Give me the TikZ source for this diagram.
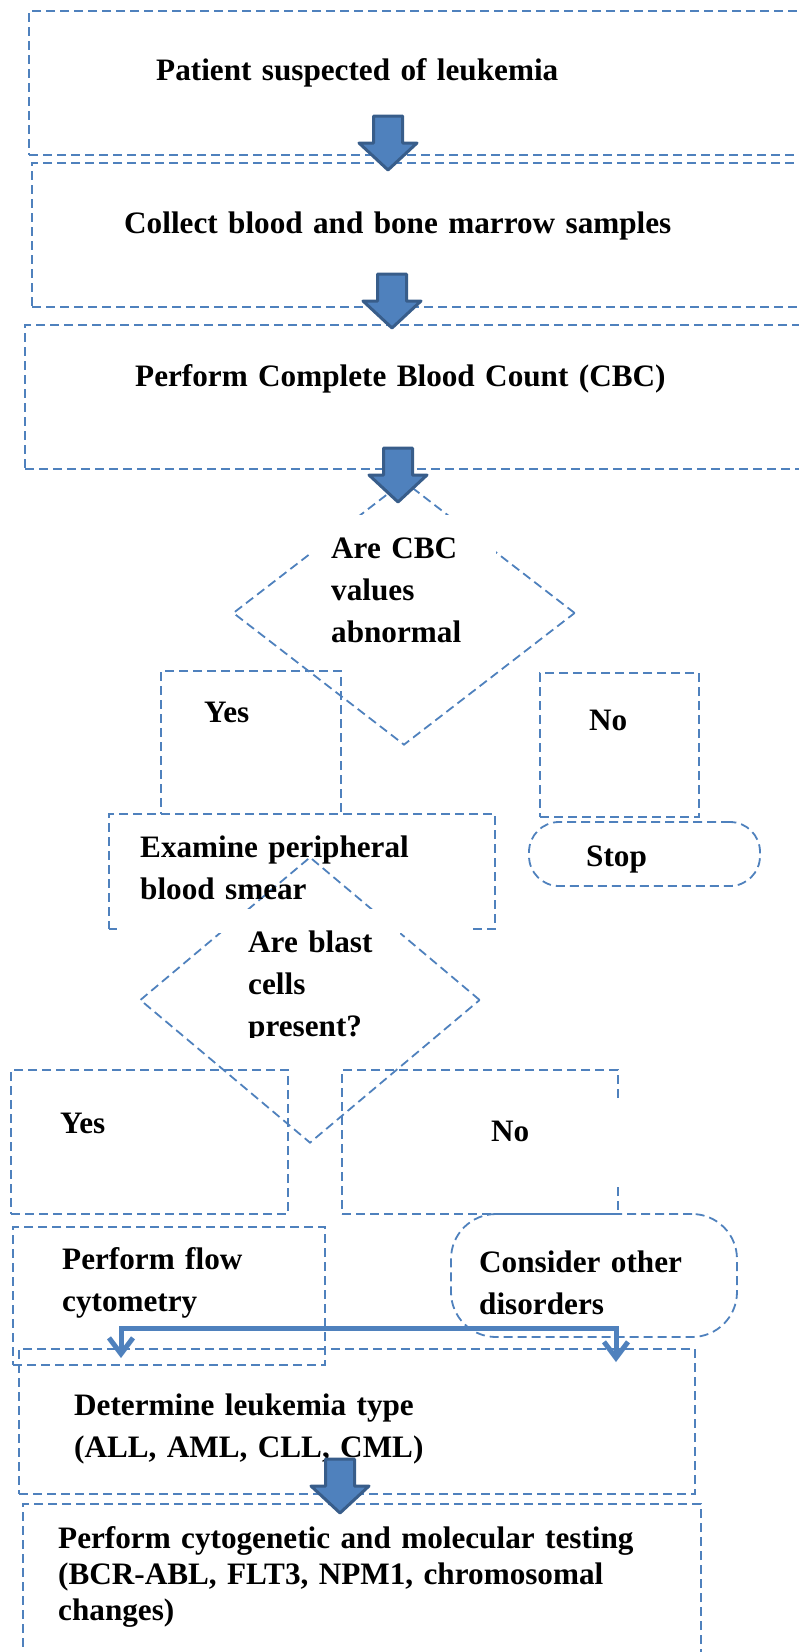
\documentclass[tikz,border=0pt]{standalone}
\usepackage{fontspec}
\setmainfont{Liberation Serif}
\usetikzlibrary{shapes.geometric,arrows.meta,fit}
\definecolor{boxblue}{HTML}{4F81BD}
\definecolor{arrowedge}{HTML}{385D8A}
\begin{document}
\begin{tikzpicture}[x=1pt,y=-1pt,
	dbox/.style={draw=boxblue,line width=1.8pt,dash pattern=on 9pt off 5pt,inner sep=0pt},
	dq/.style={diamond,draw=boxblue,line width=1.8pt,dash pattern=on 9pt off 5pt,inner sep=0pt},
	txt/.style={anchor=base west,inner sep=0pt,text width=660pt,align=left,font=\fontsize{31.2}{42}\selectfont\bfseries},
	flowline/.style={draw=boxblue,line width=5pt,{Straight Barb[length=16pt,width=24pt]}-{Straight Barb[length=16pt,width=24pt]}},
	bigarrow/.pic={\filldraw[fill=boxblue,draw=arrowedge,line width=3pt,line join=round] (0,0) -- (-29,-27) -- (-14.5,-27) -- (-14.5,-54) -- (14.5,-54) -- (14.5,-27) -- (29,-27) -- cycle;}]
		\useasboundingbox (0,0) rectangle (798,1652);
		\node[dbox,fit={(29,11) (810,155)}] (start) {};
		\node[dbox,fit={(32,163) (810,307)}] (collect) {};
		\node[dbox,fit={(25,325) (810,469)}] (cbc) {};
		\node[dq,minimum width=342pt,minimum height=264pt] (cbcq) at (404,613) {};
		\node[dbox,fit={(161,671) (341,814)}] (yes1) {};
		\node[dbox,fit={(540,673) (699,817)}] (no1) {};
		\node[dbox,fit={(109,814) (495,929)}] (smear) {};
		\node[dbox,rounded corners=30pt,fit={(529,822) (760,886)}] (stop) {};
		\node[dq,minimum width=340pt,minimum height=286pt] (blastq) at (310,1000) {};
		\node[dbox,fit={(11,1070) (288,1214)}] (yes2) {};
		\node[dbox,fit={(342,1070) (618,1214)}] (no2) {};
		\node[dbox,fit={(13,1227) (325,1365)}] (flow) {};
		\node[dbox,rounded corners=45pt,fit={(451,1214) (737,1337)}] (other) {};
		\node[dbox,fit={(19,1349) (695,1494)}] (type) {};
		\node[dbox,fit={(23,1504) (701,1680)}] (tests) {};
		\fill[white] (312,515) rectangle (496,660);
		\fill[white] (117,925) rectangle (473,933);
		\fill[white] (225,909) rectangle (400,1037);
		\fill[white] (614,1102) rectangle (622,1183);
		\node[txt] (start-t) at (156,80) {Patient suspected of leukemia};
		\node[txt] (collect-t) at (124,233) {Collect blood and bone marrow samples};
		\node[txt] (cbc-t) at (135,386) {Perform Complete Blood Count (CBC)};
		\node[txt] (cbcq-t) at (331,558) {Are CBC\\values\\abnormal};
		\node[txt] (yes1-t) at (204,722) {Yes};
		\node[txt] (no1-t) at (589,730) {No};
		\node[txt] (smear-t) at (140,857) {Examine peripheral\\blood smear};
		\node[txt] (stop-t) at (586,866) {Stop};
		\begin{scope}
			\clip (225,909) rectangle (400,1037);
			\node[txt] (blastq-t) at (248,952) {Are blast\\cells\\present?};
		\end{scope}
		\node[txt] (yes2-t) at (60,1133) {Yes};
		\node[txt] (no2-t) at (491,1141) {No};
		\node[txt] (flow-t) at (62,1269) {Perform flow\\cytometry};
		\node[txt] (other-t) at (479,1272) {Consider other\\disorders};
		\node[txt] (type-t) at (74,1415) {Determine leukemia type\\(ALL, AML, CLL, CML)};
		\node[txt,font=\fontsize{31.2}{36}\selectfont\bfseries] (tests-t) at (58,1548) {Perform cytogenetic and molecular testing\\(BCR-ABL, FLT3, NPM1, chromosomal\\changes)};
		\pic at (388,170) {bigarrow};
		\pic at (392,328) {bigarrow};
		\pic at (398,502) {bigarrow};
		\pic at (340,1513) {bigarrow};
		\coordinate (flowTip) at (121,1358);
		\coordinate (otherTip) at (616,1362);
		\coordinate (barR) at (616,1328);
		\draw[flowline] (flowTip) |- (barR) -- (otherTip);
	\end{tikzpicture}
\end{document}
